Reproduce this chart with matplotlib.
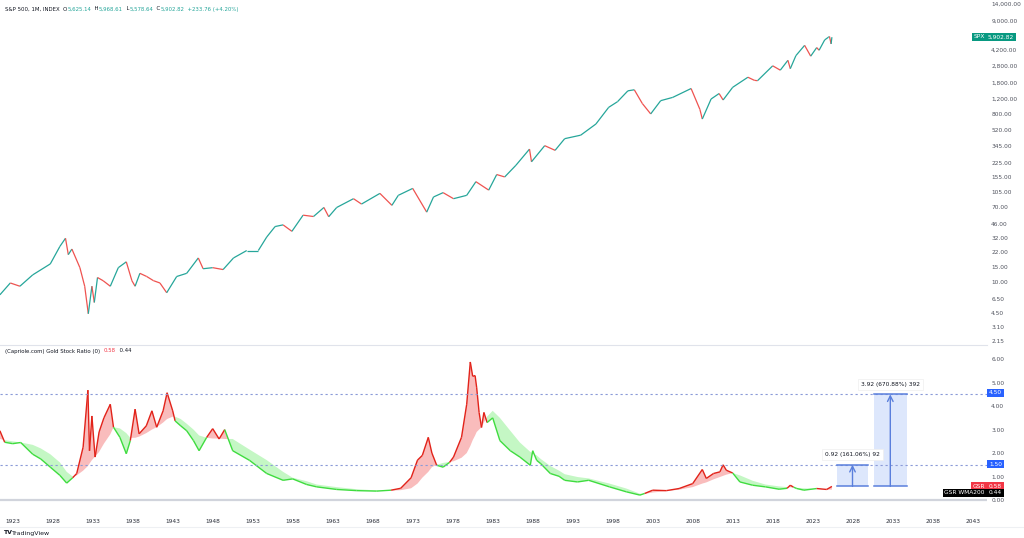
import matplotlib
matplotlib.use('Agg')
import matplotlib.pyplot as plt
from matplotlib.collections import LineCollection
from matplotlib.patches import Rectangle
import numpy as np

plt.rcParams['font.family'] = ['DejaVu Sans']

# S&P 500 monthly closes (year, level)
spx_years = [1921.4, 1922.7, 1923.9, 1925.5, 1927.7, 1928.9, 1929.6, 1929.95, 1930.4, 1931.4,
             1932.0, 1932.45, 1932.9, 1933.2, 1933.6, 1934.3, 1935.2, 1936.2, 1937.2, 1937.9,
             1938.3, 1938.9, 1939.75, 1940.6, 1941.4, 1942.25, 1943.5, 1944.75, 1946.2, 1946.8,
             1948.0, 1949.3, 1950.6, 1952.25, 1953.7, 1954.75, 1955.8, 1956.8, 1957.9, 1959.3,
             1960.6, 1961.9, 1962.5, 1963.5, 1965.6, 1966.6, 1968.9, 1970.4, 1971.2, 1973.0,
             1974.75, 1975.6, 1976.8, 1978.1, 1979.75, 1980.9, 1982.5, 1983.5, 1984.5, 1985.9,
             1987.6, 1987.85, 1989.5, 1990.8, 1992.0, 1994.0, 1995.9, 1997.5, 1998.6, 1999.9,
             2000.7, 2001.7, 2002.75, 2004.0, 2005.5, 2007.8, 2008.9, 2009.2, 2010.3, 2011.3,
             2011.8, 2013.0, 2014.9, 2015.7, 2016.1, 2018.0, 2018.95, 2019.9, 2020.2, 2020.9,
             2021.99, 2022.75, 2023.5, 2023.8, 2024.5, 2024.95, 2025.1, 2025.3, 2025.4]
spx_close = [7.2, 9.8, 9.0, 12.1, 16.1, 25.4, 31.4, 20.5, 23.7, 14.6,
             9.0, 4.4, 9.0, 5.9, 11.3, 10.4, 9.0, 14.6, 17.0, 10.4,
             9.0, 12.6, 11.6, 10.4, 9.8, 7.6, 11.6, 12.6, 18.8, 14.2,
             14.6, 13.9, 18.8, 22.8, 22.8, 32.4, 42.6, 44.5, 37.6, 57.3,
             55.3, 70.0, 55.0, 70.0, 88.0, 76.5, 101.0, 74.0, 96.0, 115.0,
             62.0, 92.0, 103.0, 88.0, 96.0, 137.0, 110.0, 165.0, 155.0, 210.0,
             320.0, 230.0, 350.0, 310.0, 420.0, 460.0, 615.0, 950.0, 1100.0, 1460.0,
             1500.0, 1050.0, 800.0, 1130.0, 1230.0, 1550.0, 900.0, 700.0, 1180.0, 1360.0,
             1150.0, 1600.0, 2080.0, 1920.0, 1900.0, 2800.0, 2500.0, 3230.0, 2600.0, 3650.0,
             4770.0, 3600.0, 4500.0, 4200.0, 5500.0, 5880.0, 6000.0, 4950.0, 5900.0]

gsr_years = [1921.4, 1922.0, 1923.0, 1924.0, 1925.5, 1926.5, 1927.7, 1928.9, 1929.75, 1930.5,
             1931.0, 1931.8, 1932.4, 1932.6, 1932.9, 1933.3, 1933.8, 1934.4, 1935.2, 1935.6,
             1936.4, 1937.2, 1937.7, 1938.3, 1938.8, 1939.7, 1940.4, 1941.0, 1941.8, 1942.3,
             1943.0, 1943.3, 1944.0, 1944.75, 1945.6, 1946.3, 1947.25, 1948.0, 1948.8, 1949.5,
             1950.5, 1952.6, 1954.75, 1956.8, 1958.0, 1959.75, 1961.0, 1963.5, 1966.0, 1968.5,
             1970.3, 1971.5, 1972.8, 1973.6, 1974.2, 1974.95, 1975.4, 1976.0, 1976.8, 1977.6,
             1978.1, 1979.1, 1979.75, 1980.2, 1980.5, 1980.8, 1981.0, 1981.3, 1981.6, 1981.9,
             1982.3, 1983.0, 1983.9, 1985.2, 1986.4, 1987.7, 1988.0, 1988.5, 1989.0, 1990.2,
             1991.3, 1992.0, 1993.6, 1995.0, 1997.6, 1999.7, 2001.4, 2002.0, 2003.0, 2004.7,
             2006.3, 2008.0, 2009.2, 2009.7, 2010.6, 2011.4, 2011.8, 2012.2, 2013.0, 2013.9,
             2015.5, 2017.1, 2018.8, 2019.8, 2020.2, 2020.6, 2021.0, 2021.9, 2023.5, 2024.75,
             2025.4]
gsr = [2.95, 2.46, 2.4, 2.45, 1.95, 1.75, 1.4, 1.05, 0.72, 0.95,
       1.13, 2.25, 4.68, 2.1, 3.58, 1.83, 2.9, 3.5, 4.08, 3.1,
       2.67, 1.97, 2.53, 3.87, 2.82, 3.16, 3.8, 3.1, 3.8, 4.57,
       3.8, 3.37, 3.16, 2.95, 2.53, 2.1, 2.67, 3.04, 2.6, 3.0,
       2.1, 1.69, 1.13, 0.84, 0.9, 0.66, 0.56, 0.45, 0.4, 0.38,
       0.42, 0.5, 0.95, 1.7, 1.9, 2.67, 2.0, 1.48, 1.4, 1.6,
       1.83, 2.67, 4.08, 5.88, 5.27, 5.3, 4.78, 3.73, 3.09, 3.73,
       3.3, 3.5, 2.53, 2.1, 1.83, 1.48, 2.1, 1.69, 1.55, 1.13,
       1.01, 0.84, 0.77, 0.84, 0.56, 0.35, 0.21, 0.28, 0.42, 0.4,
       0.49, 0.7, 1.3, 0.92, 1.13, 1.2, 1.5, 1.27, 1.15, 0.77,
       0.63, 0.56, 0.46, 0.5, 0.63, 0.55, 0.49, 0.42, 0.49, 0.45,
       0.58]
wma200 = [2.6, 2.55, 2.5, 2.45, 2.35, 2.2, 1.95, 1.6, 1.2, 1.0,
          1.05, 1.25, 1.45, 1.55, 1.7, 1.85, 2.05, 2.4, 2.8, 3.1,
          3.05, 2.85, 2.65, 2.65, 2.7, 2.85, 3.0, 3.1, 3.3, 3.45,
          3.55, 3.55, 3.45, 3.25, 3.0, 2.75, 2.65, 2.62, 2.62, 2.6,
          2.6, 2.15, 1.7, 1.2, 0.95, 0.8, 0.66, 0.55, 0.46, 0.41,
          0.4, 0.42, 0.5, 0.7, 0.95, 1.2, 1.4, 1.5, 1.58, 1.62,
          1.65, 1.8, 2.0, 2.3, 2.55, 2.75, 2.9, 3.0, 3.1, 3.3,
          3.55, 3.8, 3.5, 2.95, 2.45, 2.05, 2.0, 1.9, 1.75, 1.45,
          1.25, 1.1, 0.98, 0.92, 0.7, 0.49, 0.27, 0.26, 0.32, 0.38,
          0.44, 0.55, 0.7, 0.75, 0.88, 0.98, 1.03, 1.08, 1.15, 1.05,
          0.82, 0.66, 0.58, 0.55, 0.54, 0.53, 0.52, 0.5, 0.47, 0.45,
          0.44]

level_lines = [4.5, 1.5]
spx_ticks = [2.15, 3.1, 4.5, 6.5, 10, 15, 22, 32, 46, 70, 105, 155, 225, 345, 520, 800,
             1200, 1800, 2800, 4200, 9000, 14000]
gsr_ticks = [0, 1, 2, 3, 4, 5, 6]
year_ticks = list(range(1923, 2044, 5))

# projection boxes: (start year, end year, low, high, label)
proj = [(2026.0, 2029.95, 0.58, 1.5, '0.92 (161.06%) 92'),
        (2030.6, 2034.8, 0.58, 4.5, '3.92 (670.88%) 392')]

W, H = 1024, 538
fig = plt.figure(figsize=(W / 100, H / 100), dpi=100)


def fx(p):
    return p / W


def fy(p):
    return 1 - p / H


ax1 = fig.add_axes([0, fy(344), fx(987), fy(0) - fy(344)])
ax2 = fig.add_axes([0, fy(512), fx(987), fy(346) - fy(512)])

x0 = 1923 - 12.7 / 8.0
x1 = 1923 + (987 - 12.7) / 8.0

UP, DN = '#26a69a', '#ef5350'
txt = '#131722'
axis_col = '#50535e'

# --- top pane: S&P 500
pts = np.column_stack([spx_years, spx_close])
segs = np.stack([pts[:-1], pts[1:]], axis=1)
cols = [UP if b >= a else DN for a, b in zip(spx_close[:-1], spx_close[1:])]
ax1.add_collection(LineCollection(segs, colors=cols, linewidths=0.9))
ax1.set_yscale('log')
ax1.set_ylim(2.0, 15540)
ax1.set_xlim(x0, x1)
ax1.yaxis.tick_right()
ax1.set_yticks(spx_ticks, labels=['{:,.2f}'.format(v) for v in spx_ticks])
ax1.set_yticks([], minor=True)
ax1.tick_params(axis='y', length=0, pad=3, labelsize=4.2, labelcolor=axis_col)
ax1.tick_params(axis='x', bottom=False, labelbottom=False)
for s in ax1.spines.values():
    s.set_visible(False)

# --- bottom pane: Gold Stock Ratio
t = np.array(gsr_years)
g = np.array(gsr)
w = np.array(wma200)
ax2.fill_between(t, g, w, where=g >= w, interpolate=True, color='#f9bcbc', lw=0)
ax2.fill_between(t, g, w, where=g < w, interpolate=True, color='#c4f7c4', lw=0)
gp = np.column_stack([t, g])
gsegs = np.stack([gp[:-1], gp[1:]], axis=1)
gcols = ['#e2231a' if (g[i] + g[i + 1]) >= (w[i] + w[i + 1]) else '#3fdc3f' for i in range(len(g) - 1)]
ax2.add_collection(LineCollection(gsegs, colors=gcols, linewidths=1.0))
ax2.axhline(0, color='#d1d4dc', lw=1.6, zorder=0)
for lv in level_lines:
    ax2.axhline(lv, color='#8a9ad8', lw=0.8, ls=(0, (2, 2.5)))

for xa, xb, lo, hi, lab in proj:
    ax2.add_patch(Rectangle((xa, lo), xb - xa, hi - lo, fc='#dde7fc', ec='none', zorder=1))
    ax2.plot([xa, xb], [lo, lo], color='#5a7fdc', lw=1.1)
    ax2.plot([xa, xb], [hi, hi], color='#5a7fdc', lw=1.1)
    xm = (xa + xb) / 2
    ax2.annotate('', xy=(xm, hi), xytext=(xm, lo),
                 arrowprops=dict(arrowstyle='->', color='#5a7fdc', lw=1.0, shrinkA=0, shrinkB=0))
    ax2.text(xm, hi + 0.43, lab, ha='center', va='center', fontsize=4.2, color=txt,
             bbox=dict(boxstyle='square,pad=0.5', fc='white', ec='#eeeeee', lw=0.5))

ax2.set_xlim(x0, x1)
ax2.set_ylim(-0.51, 6.56)
ax2.yaxis.tick_right()
ax2.set_yticks(gsr_ticks, labels=['{:.2f}'.format(v) for v in gsr_ticks])
ax2.tick_params(axis='y', length=0, pad=3, labelsize=4.2, labelcolor=axis_col)
ax2.set_xticks(year_ticks, labels=[str(y) for y in year_ticks])
ax2.tick_params(axis='x', length=0, pad=5, labelsize=4.2, labelcolor='#2a2e39')
for s in ax2.spines.values():
    s.set_visible(False)

# pane separators
fig.add_artist(plt.Line2D([0, fx(987)], [fy(345), fy(345)], color='#e0e3eb', lw=0.8))
fig.add_artist(plt.Line2D([0, 1], [fy(527), fy(527)], color='#eef0f3', lw=0.8))


def tag(x, y, s, fc, fg='white', ha='left'):
    fig.text(fx(x), fy(y), s, ha=ha, va='center', fontsize=4.2, color=fg,
             bbox=dict(boxstyle='square,pad=0.3', fc=fc, ec='none'))


tag(988, 37, '5,902.82', '#089981')
tag(985, 37, 'SPX', '#089981', ha='right')
tag(989, 393, '4.50', '#2962ff')
tag(989, 464, '1.50', '#2962ff')
tag(989, 486, '0.58', '#f23645')
tag(985, 486, 'GSR', '#f23645', ha='right')
tag(989, 493, '0.44', '#000000')
tag(985, 493, 'GSR WMA200', '#000000', ha='right')

fig.canvas.draw()
rend = fig.canvas.get_renderer()


def seq(x, y, parts, size=3.9):
    for s, c in parts:
        tt = fig.text(fx(x), fy(y), s, color=c, fontsize=size, va='center', ha='left')
        x += tt.get_window_extent(renderer=rend).width


seq(5, 9, [('S&P 500, 1M, INDEX  O', txt), ('5,625.14', UP), ('  H', txt), ('5,968.61', UP),
           ('  L', txt), ('5,578.64', UP), ('  C', txt), ('5,902.82', UP),
           ('  +233.76 (+4.20%)', UP)])
seq(5, 351, [('(Capriole.com) Gold Stock Ratio (0)  ', txt), ('0.58', '#f23645'),
             ('  0.44', txt)])

fig.text(fx(3), fy(533), 'TV', fontsize=4.5, fontweight='bold', color=txt, va='center')
fig.text(fx(12), fy(533), 'TradingView', fontsize=4.5, color=txt, va='center')

fig.savefig('out.png', dpi=100, facecolor='white')
